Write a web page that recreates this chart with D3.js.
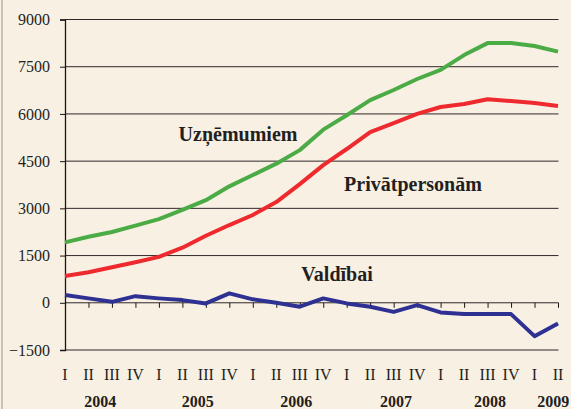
<!DOCTYPE html>
<html>
<head>
<meta charset="utf-8">
<script src="https://cdn.jsdelivr.net/npm/d3@7"></script>
<style>
  html, body { margin: 0; padding: 0; background: #f9f0e4; }
  svg { display: block; }
</style>
</head>
<body>
<svg id="chart" width="571" height="409"></svg>
<script>
// ---- data ----
const quarters = ["I","II","III","IV","I","II","III","IV","I","II","III","IV","I","II","III","IV","I","II","III","IV","I","II"];
const years = ["2004","2005","2006","2007","2008","2009"];
const yearPos = [1.5, 5.65, 9.85, 14.1, 18.1, 20.8];
const yTicks = [-1500, 0, 1500, 3000, 4500, 6000, 7500, 9000];
const uznemumiem = [1920, 2100, 2250, 2450, 2660, 2950, 3260, 3700, 4060, 4420, 4850, 5500, 5960, 6440, 6760, 7110, 7400, 7870, 8250, 8250, 8160, 7980];
const privatpersonam = [850, 970, 1130, 1290, 1460, 1750, 2130, 2470, 2790, 3200, 3770, 4375, 4885, 5425, 5710, 6000, 6220, 6315, 6465, 6410, 6350, 6255];
const valdibai = [245, 140, 30, 210, 140, 85, -20, 300, 110, 0, -125, 140, -20, -125, -290, -75, -305, -360, -360, -360, -1060, -655];
const seriesNames = ["Uzņēmumiem", "Privātpersonām", "Valdībai"];

// ---- chart ----
const svg = d3.select("#chart");
const W = 571, H = 409;
svg.append("rect").attr("width", W).attr("height", H).attr("fill", "#f9f0e4");
svg.append("line").attr("x1", 2).attr("x2", 2).attr("y1", 0).attr("y2", H)
  .attr("stroke", "#c9c2ba").attr("stroke-width", 2);

const x = d3.scaleLinear().domain([0, quarters.length - 1]).range([65, 558]);
const y = d3.scaleLinear().domain([-1500, 9000]).range([350, 19.5]);

// gridlines
svg.append("g").selectAll("line").data(yTicks).join("line")
  .attr("x1", 65).attr("x2", 558.5)
  .attr("y1", d => y(d)).attr("y2", d => y(d))
  .attr("stroke", "#2f2727").attr("stroke-width", 1);

// y axis
const yAxis = d3.axisLeft(y).tickValues(yTicks).tickSize(5).tickPadding(10).tickFormat(d3.format("d"));
const gy = svg.append("g").attr("transform", "translate(65,0)").call(yAxis);
gy.select(".domain").attr("stroke", "#1a1414").attr("stroke-width", 1.3);
gy.selectAll(".tick line").attr("stroke", "#1a1414");
gy.selectAll(".tick text").attr("font-family", "'Liberation Serif', serif").attr("font-size", 16).attr("fill", "#231f20");

// x ticks at zero line
const xAxis = d3.axisBottom(x).tickValues(d3.range(quarters.length)).tickSize(5).tickFormat("");
const gx = svg.append("g").attr("transform", `translate(0,${y(0)})`).call(xAxis);
gx.select(".domain").remove();
gx.selectAll(".tick line").attr("stroke", "#1a1414");

// quarter labels
svg.append("g").selectAll("text").data(quarters).join("text")
  .attr("x", (d, i) => x(i)).attr("y", 380)
  .attr("text-anchor", "middle")
  .attr("font-family", "'Liberation Serif', serif").attr("font-size", 16).attr("fill", "#231f20")
  .text(d => d);

// year labels
svg.append("g").selectAll("text").data(years).join("text")
  .attr("x", (d, i) => x(yearPos[i])).attr("y", 407)
  .attr("text-anchor", "middle")
  .attr("font-family", "'Liberation Serif', serif").attr("font-size", 16).attr("font-weight", "bold").attr("fill", "#231f20")
  .text(d => d);

// lines
const line = d3.line().x((d, i) => x(i)).y(d => y(d));
const series = [
  {values: uznemumiem, color: "#4bab45"},
  {values: privatpersonam, color: "#ee2a2e"},
  {values: valdibai, color: "#2e3192"}
];
svg.append("g").selectAll("path").data(series).join("path")
  .attr("d", d => line(d.values))
  .attr("fill", "none").attr("stroke", d => d.color).attr("stroke-width", 4)
  .attr("stroke-linejoin", "round");

// series labels
const labelPos = [[238, 141], [413, 191], [337, 281]];
svg.append("g").selectAll("text").data(seriesNames).join("text")
  .attr("x", (d, i) => labelPos[i][0]).attr("y", (d, i) => labelPos[i][1])
  .attr("text-anchor", "middle")
  .attr("font-family", "'Liberation Serif', serif").attr("font-size", 20).attr("font-weight", "bold").attr("fill", "#231f20")
  .text(d => d);
</script>
</body>
</html>
